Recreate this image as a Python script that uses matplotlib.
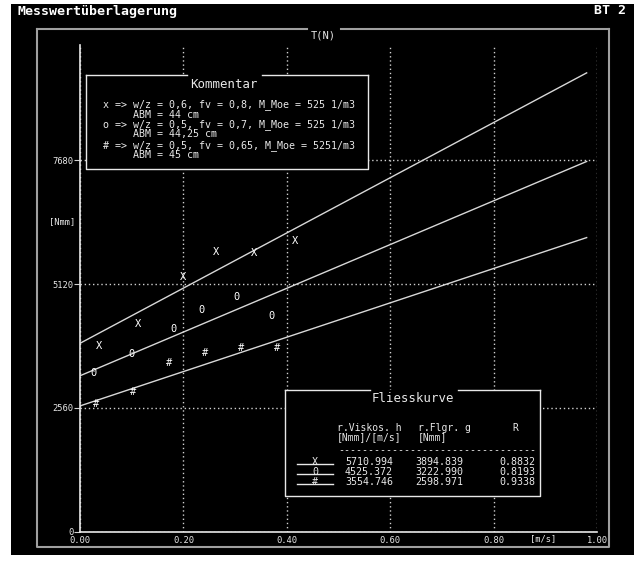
import numpy as np
import matplotlib.pyplot as plt
from matplotlib.patches import Rectangle

v_x = [0.037, 0.112, 0.199, 0.263, 0.337, 0.416]
t_x = [3845, 4288, 5261, 5791, 5757, 6018]
v_o = [0.026, 0.099, 0.180, 0.235, 0.302, 0.370]
t_o = [3287, 3673, 4191, 4584, 4847, 4460]
v_h = [0.032, 0.102, 0.173, 0.242, 0.312, 0.382]
t_h = [2639, 2893, 3481, 3688, 3804, 3804]

symbols = ["X", "0", "#"]

# Fliesskurve: T = g + h * v
viskos = [5710.994, 4525.372, 3554.746]
fliessgr = [3894.839, 3222.990, 2598.971]
r_vals = [0.8832, 0.8193, 0.9338]

x_ticks = [0.0, 0.2, 0.4, 0.6, 0.8, 1.0]
y_ticks = [0, 2560, 5120, 7680]

kommentar = [
    "x => w/z = 0,6, fv = 0,8, M_Moe = 525 1/m3",
    "     ABM = 44 cm",
    "o => w/z = 0,5, fv = 0,7, M_Moe = 525 1/m3",
    "     ABM = 44,25 cm",
    "# => w/z = 0,5, fv = 0,65, M_Moe = 5251/m3",
    "     ABM = 45 cm",
]

W, H = 634, 564
FG = "#e8e8e8"
GRID = "#d0d0d0"
FRAME = "#a0a0a0"
MONO = "DejaVu Sans Mono"

fig = plt.figure(figsize=(W / 100, H / 100), dpi=100)
fig.patch.set_facecolor("white")

# background / frame layer in pixel coordinates
bg = fig.add_axes([0, 0, 1, 1], zorder=0)
bg.set_xlim(0, W)
bg.set_ylim(H, 0)
bg.axis("off")
bg.add_patch(Rectangle((11, 4), W - 11, 551, facecolor="black", edgecolor="none"))


def box(a, x0, y0, x1, y1, gap=None, color=FG, lw=1.0, fill=False):
    if fill:
        a.add_patch(Rectangle((x0, y0), x1 - x0, y1 - y0, facecolor="black",
                              edgecolor="none"))
    if gap:
        a.plot([x0, gap[0]], [y0, y0], color=color, lw=lw)
        a.plot([gap[1], x1], [y0, y0], color=color, lw=lw)
    else:
        a.plot([x0, x1], [y0, y0], color=color, lw=lw)
    a.plot([x1, x1, x0, x0], [y0, y1, y1, y0], color=color, lw=lw)


box(bg, 37, 29, 609, 547, gap=(307, 341), color=FRAME, lw=1.5)
bg.text(323, 35, "T(N)", color=FG, family=MONO, fontsize=7.5, ha="center", va="center")
bg.text(18, 11, "Messwertüberlagerung", color="white", family=MONO,
        fontsize=9.5, fontweight="bold", ha="left", va="center")
bg.text(626, 11, "BT 2", color="white", family=MONO, fontsize=9.5,
        fontweight="bold", ha="right", va="center")
bg.text(62, 222, "[Nmm]", color=FG, family=MONO, fontsize=6.3, ha="center", va="center")
bg.text(543, 539, "[m/s]", color=FG, family=MONO, fontsize=6.3, ha="center", va="center")

# data axes
ymax = (531.5 - 45) * 2560 / 123.7
ax = fig.add_axes([80 / W, (H - 531.5) / H, (597 - 80) / W, (531.5 - 45) / H], zorder=1)
ax.set_facecolor("none")
ax.set_xlim(0, 1.0)
ax.set_ylim(0, ymax)
for s in ["top", "right"]:
    ax.spines[s].set_visible(False)
for s in ["left", "bottom"]:
    ax.spines[s].set_color(FG)
    ax.spines[s].set_linewidth(1.2)
ax.set_xticks(x_ticks)
ax.set_xticklabels([f"{t:.2f}" for t in x_ticks])
ax.set_yticks(y_ticks)
ax.set_yticklabels([str(t) for t in y_ticks])
ax.tick_params(axis="x", length=0, pad=3.5, colors=FG, labelsize=6.3)
ax.tick_params(axis="y", length=4.3, width=0.8, pad=0.5, colors=GRID, labelcolor=FG, labelsize=6.3)
for lab in ax.get_xticklabels() + ax.get_yticklabels():
    lab.set_family(MONO)
ax.grid(True, color=GRID, linestyle=(0, (1, 2)), linewidth=1.0)
ax.set_axisbelow(True)

v_line = np.linspace(0, 0.98, 60)
for h, g in zip(viskos, fliessgr):
    ax.plot(v_line, g + h * v_line, color="#d8d8d8", lw=1.0, zorder=2)

for vs, ts, sym in zip([v_x, v_o, v_h], [t_x, t_o, t_h], symbols):
    for v, t in zip(vs, ts):
        ax.text(v, t, sym, color="white", family=MONO, fontsize=7.5,
                ha="center", va="center", zorder=3)

# boxes on top
ov = fig.add_axes([0, 0, 1, 1], zorder=2)
ov.set_xlim(0, W)
ov.set_ylim(H, 0)
ov.axis("off")
ov.patch.set_alpha(0)

# Kommentar
box(ov, 86, 75, 368, 169, gap=(187, 262), fill=True)
ov.text(224, 84, "Kommentar", color=FG, family=MONO, fontsize=8.9, ha="center", va="center")
for txt, y in zip(kommentar, [105, 114.5, 125, 134.5, 146, 155.5]):
    ov.text(103, y, txt, color=FG, family=MONO, fontsize=7.2, ha="left", va="center")

# Fliesskurve
box(ov, 285, 390, 540, 496, gap=(370, 458), fill=True)
ov.text(413, 398, "Fliesskurve", color=FG, family=MONO, fontsize=8.9, ha="center", va="center")
ov.text(337, 428, "r.Viskos. h", color=FG, family=MONO, fontsize=7.0, va="center")
ov.text(337, 437.5, "[Nmm]/[m/s]", color=FG, family=MONO, fontsize=7.0, va="center")
ov.text(418, 428, "r.Flgr. g", color=FG, family=MONO, fontsize=7.0, va="center")
ov.text(418, 437.5, "[Nmm]", color=FG, family=MONO, fontsize=7.0, va="center")
ov.text(515, 428, "R", color=FG, family=MONO, fontsize=7.0, ha="center", va="center")
ov.text(338, 450, "-" * 33, color=FG, family=MONO, fontsize=7.2, va="center")
for i, (sym, h, g, r) in enumerate(zip(symbols, viskos, fliessgr, r_vals)):
    y = 462 + 10 * i
    ov.plot([297, 333], [y + 2, y + 2], color=FG, lw=1.0)
    ov.text(315, y, sym, color=FG, family=MONO, fontsize=7.2, ha="center", va="center")
    ov.text(393, y, f"{h:.3f}", color=FG, family=MONO, fontsize=7.2, ha="right", va="center")
    ov.text(463, y, f"{g:.3f}", color=FG, family=MONO, fontsize=7.2, ha="right", va="center")
    ov.text(535, y, f"{r:.4f}", color=FG, family=MONO, fontsize=7.2, ha="right", va="center")

fig.savefig("out.png", dpi=100, facecolor=fig.get_facecolor())
